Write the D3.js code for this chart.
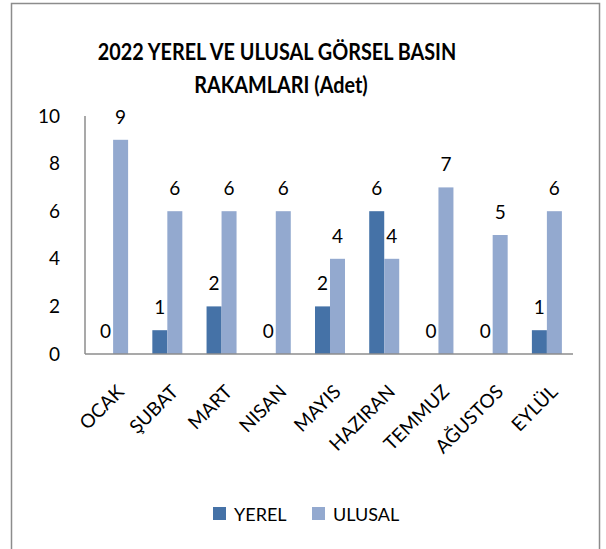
<!DOCTYPE html>
<html>
<head>
<meta charset="utf-8">
<script src="https://cdn.jsdelivr.net/npm/d3@7"></script>
<style>
  body { margin: 0; background: #fff; }
  text { font-family: Lato, "Open Sans", sans-serif; fill: #000; }
</style>
</head>
<body>
<div id="chart"></div>
<script>
// data
const months = ["OCAK", "ŞUBAT", "MART", "NISAN", "MAYIS", "HAZIRAN", "TEMMUZ", "AĞUSTOS", "EYLÜL"];
const yerel = [0, 1, 2, 0, 2, 6, 0, 0, 1];
const ulusal = [9, 6, 6, 6, 4, 4, 7, 5, 6];
const seriesNames = ["YEREL", "ULUSAL"];
const yTicks = [0, 2, 4, 6, 8, 10];
const colors = ["#4572A7", "#93A9CF"];

const W = 606, H = 549;
const margin = { top: 116, right: 33, bottom: 195, left: 85 };
const width = W - margin.left - margin.right;
const height = H - margin.top - margin.bottom;

const svg = d3.select("#chart")
    .append("svg")
    .attr("width", W)
    .attr("height", H);

// outer frame
svg.append("rect")
    .attr("x", 11.5).attr("y", 3.5)
    .attr("width", 588).attr("height", 560)
    .attr("fill", "none")
    .attr("stroke", "#8c8c8c")
    .attr("stroke-width", 1.5);

// title (squeezed a little, the original font is narrower)
const titleLines = ["2022 YEREL VE ULUSAL GÖRSEL BASIN", "RAKAMLARI (Adet)"];
titleLines.forEach((t, i) => {
    const el = svg.append("text")
        .attr("x", 278 + (i == 0 ? -1 : 3))
        .attr("y", 60 + i * 33)
        .attr("text-anchor", "middle")
        .attr("font-weight", "bold")
        .attr("font-size", 22)
        .text(t);
    const len = el.node().getComputedTextLength();
    el.attr("textLength", len * 0.9).attr("lengthAdjust", "spacingAndGlyphs");
});

const g = svg.append("g")
    .attr("transform", `translate(${margin.left}, ${margin.top})`);

const x = d3.scaleBand()
    .domain(months)
    .range([0, width]);

const xSub = d3.scaleBand()
    .domain(seriesNames)
    .range([0, 30])
    .padding(0);

const y = d3.scaleLinear()
    .domain([0, 10])
    .range([height, 0]);

// y axis labels
g.append("g")
    .call(d3.axisLeft(y).tickValues(yTicks).tickSize(0).tickPadding(25))
    .call(a => a.select(".domain").remove())
    .selectAll("text")
    .attr("font-size", 19)
    .attr("font-family", "Lato, 'Open Sans', sans-serif");

// axis lines
g.append("line")
    .attr("x1", 0).attr("x2", 0)
    .attr("y1", 0).attr("y2", height)
    .attr("stroke", "#8c8c8c").attr("stroke-width", 1.5);

// bars
const data = months.map((m, i) => ({ month: m, vals: [yerel[i], ulusal[i]] }));

const groups = g.selectAll("g.month")
    .data(data)
    .join("g")
    .attr("class", "month")
    .attr("transform", d => `translate(${x(d.month) + x.bandwidth() / 2 - 14}, 0)`);

groups.selectAll("rect")
    .data(d => d.vals.map((v, k) => ({ key: seriesNames[k], v: v, k: k })))
    .join("rect")
    .attr("x", d => xSub(d.key))
    .attr("y", d => y(d.v))
    .attr("width", xSub.bandwidth())
    .attr("height", d => height - y(d.v))
    .attr("fill", d => colors[d.k]);

groups.selectAll("text.lbl")
    .data(d => d.vals.map((v, k) => ({ key: seriesNames[k], v: v })))
    .join("text")
    .attr("class", "lbl")
    .attr("x", d => xSub(d.key) + xSub.bandwidth() / 2)
    .attr("y", d => y(d.v) - 16)
    .attr("text-anchor", "middle")
    .attr("font-size", 19)
    .text(d => d.v);

g.append("line")
    .attr("x1", 0).attr("x2", width)
    .attr("y1", height).attr("y2", height)
    .attr("stroke", "#8c8c8c").attr("stroke-width", 1.5);

// x labels, rotated
g.selectAll("text.xl")
    .data(months)
    .join("text")
    .attr("class", "xl")
    .attr("text-anchor", "end")
    .attr("font-size", 19)
    .attr("transform", d => `translate(${x(d) + x.bandwidth() / 2 + 13}, ${height + 39}) rotate(-45)`)
    .text(d => d);

// legend
const legend = svg.append("g");
const legendX = [213, 312];
seriesNames.forEach((name, i) => {
    legend.append("rect")
        .attr("x", legendX[i]).attr("y", 507)
        .attr("width", 13).attr("height", 13)
        .attr("fill", colors[i]);
    legend.append("text")
        .attr("x", legendX[i] + 21).attr("y", 521)
        .attr("font-size", 18)
        .text(name);
});
</script>
</body>
</html>
